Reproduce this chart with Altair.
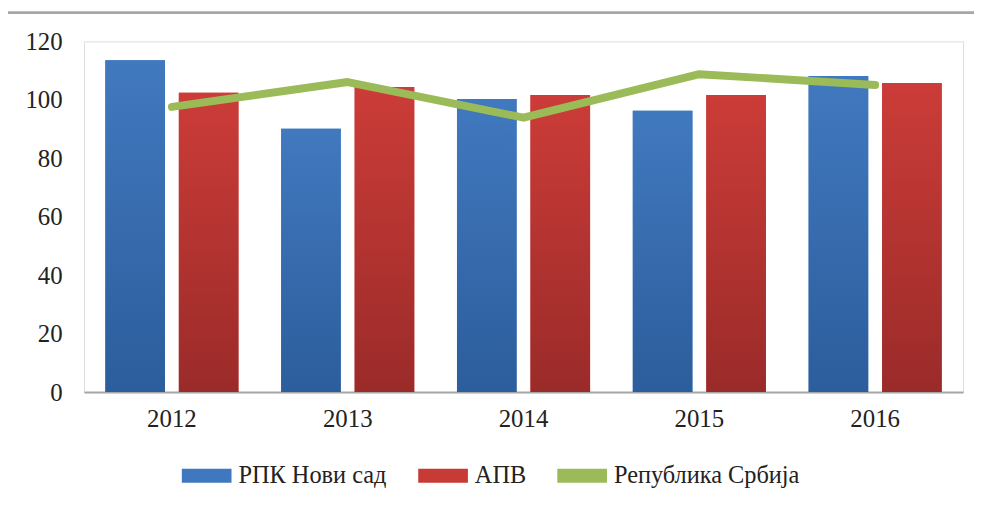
import altair as alt
import pandas as pd

years = ["2012", "2013", "2014", "2015", "2016"]
rpk = [113.6, 90.1, 100.3, 96.3, 108.2]
apv = [102.4, 104.4, 101.7, 101.7, 105.8]
srbija = [97.6, 106.1, 93.9, 108.8, 105.1]
series = ["РПК Нови сад", "АПВ", "Република Србија"]
colors = ["#3F78BE", "#C83A36", "#9BBB59"]

bars = pd.DataFrame(
    [{"year": y, "series": series[0], "value": v} for y, v in zip(years, rpk)]
    + [{"year": y, "series": series[1], "value": v} for y, v in zip(years, apv)]
)
line = pd.DataFrame({"year": years, "series": series[2], "value": srbija})

FONT = "Liberation Serif"
W, H = 885, 353
PL, PT = 76.5, 32

x_scale = alt.Scale(domain=years, paddingInner=0.243, paddingOuter=0.1215)
xoff_scale = alt.Scale(domain=series[:2], paddingInner=0.189, paddingOuter=0)
y_scale = alt.Scale(domain=[0, 120], nice=False)
color_scale = alt.Scale(domain=series, range=colors)

x_enc = alt.X("year:N", scale=x_scale, sort=years,
              axis=alt.Axis(title=None, labelAngle=0, ticks=False, domain=True,
                            domainColor="#A6A6A6", domainWidth=2,
                            labelFont=FONT, labelFontSize=25, labelColor="#222222",
                            labelPadding=15))
y_enc = alt.Y("value:Q", scale=y_scale,
              axis=alt.Axis(title=None, values=[0, 20, 40, 60, 80, 100, 120],
                            grid=False, domain=False, ticks=False,
                            labelFont=FONT, labelFontSize=25, labelColor="#222222",
                            labelPadding=22))

legend = alt.Legend(title=None, orient="none", direction="horizontal",
                    legendX=183 - 8 - PL + 11, legendY=463 - 8 - PT,
                    symbolType="M-1.8,-0.5H1.8V0.5H-1.8Z", symbolSize=772,
                    symbolStrokeWidth=0, symbolOpacity=1,
                    labelFont=FONT, labelFontSize=24.5, labelColor="#222222",
                    labelLimit=0,
                    labelOffset=18, columnPadding=30, symbolOffset=0)

base_bars = alt.Chart(bars).mark_bar().encode(
    x=x_enc,
    xOffset=alt.XOffset("series:N", scale=xoff_scale, sort=series[:2]),
    y=y_enc,
    color=alt.Color("series:N", scale=color_scale, sort=series, legend=legend),
)

def grad_layer(name, top, bottom):
    return alt.Chart(bars).transform_filter(
        alt.datum.series == name
    ).mark_bar(
        fill=alt.Gradient(gradient="linear", x1=0, x2=0, y1=0, y2=1,
                          stops=[alt.GradientStop(color=top, offset=0),
                                 alt.GradientStop(color=bottom, offset=1)])
    ).encode(
        x=alt.X("year:N", scale=x_scale, sort=years),
        xOffset=alt.XOffset("series:N", scale=xoff_scale, sort=series[:2]),
        y=alt.Y("value:Q", scale=y_scale),
    )

blue_grad = grad_layer(series[0], "#4179BF", "#2C5D9C")
red_grad = grad_layer(series[1], "#CC3C38", "#9A2B29")

line_layer = alt.Chart(line).mark_line(strokeWidth=8, strokeCap="round",
                                       strokeJoin="round").encode(
    x=alt.X("year:N", scale=x_scale, sort=years),
    y=alt.Y("value:Q", scale=y_scale),
    color=alt.Color("series:N", scale=color_scale, sort=series, legend=legend),
)

frame_top = alt.Chart(line).mark_rule(color="#A6A6A6", strokeWidth=2).encode(
    x=alt.value(7 - 8 - PL), x2=alt.value(1000 - 8 - PL), y=alt.value(11 - 8 - PT))
frame_left = alt.Chart(line).mark_rule(color="#A6A6A6", strokeWidth=2).encode(
    x=alt.value(7 - 8 - PL), y=alt.value(11 - 8 - PT), y2=alt.value(520 - 8 - PT))

chart = alt.layer(base_bars, blue_grad, red_grad, line_layer, frame_top, frame_left).properties(
    width=W, height=H,
    autosize=alt.AutoSizeParams(type="none"),
    padding={"left": PL, "top": PT, "right": 11, "bottom": 110},
).configure_view(stroke=None).configure(background="white")

chart.save("out.html", embed_options={"renderer": "svg", "actions": False})
